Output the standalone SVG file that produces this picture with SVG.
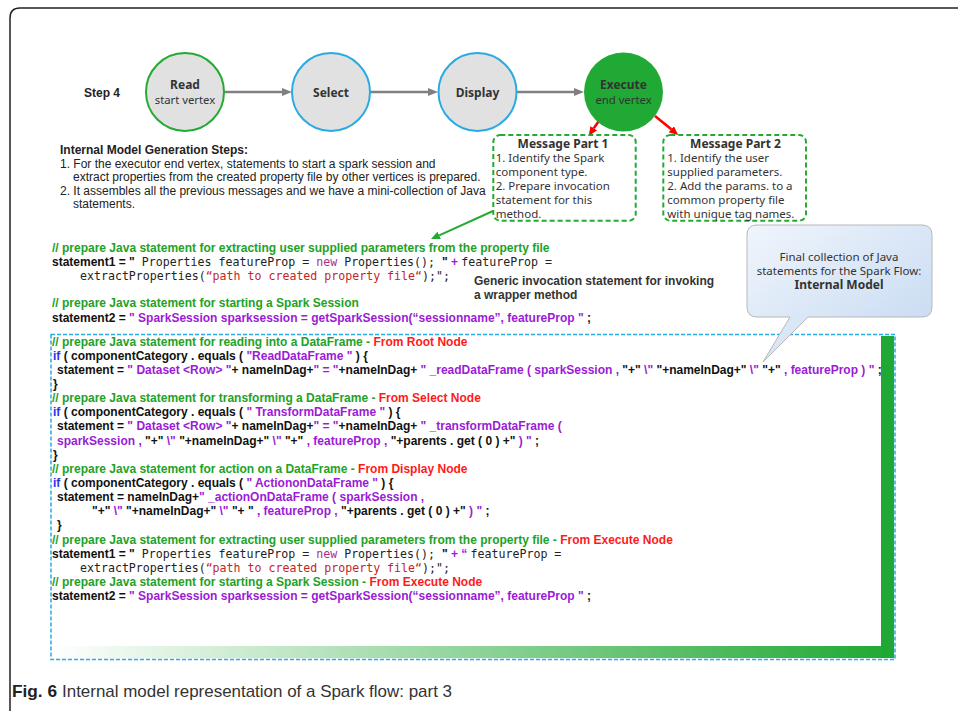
<svg xmlns="http://www.w3.org/2000/svg" width="958" height="711" viewBox="0 0 958 711">
<defs>
<style>
.code{font-family:"Liberation Sans",Arial,sans-serif;font-size:12px;font-weight:bold;fill:#111;white-space:pre}
.c{fill:#22a226}
.r{fill:#ff1a1a}
.p{fill:#9b1bd6}
.b{fill:#2a35e8}
.k{fill:#111}
.m{font-family:"DejaVu Sans Mono","Liberation Mono",monospace;font-weight:normal;font-size:11.6px;fill:#222}
.mn{font-family:"DejaVu Sans Mono","Liberation Mono",monospace;font-weight:normal;font-size:11.6px;fill:#a62f8e}
.ms{font-family:"DejaVu Sans Mono","Liberation Mono",monospace;font-weight:normal;font-size:11.6px;fill:#c4261d}
.t{font-family:"Noto Sans",sans-serif;fill:#333}
.tb{font-weight:bold}
.h{font-family:"Liberation Sans",Arial,sans-serif;fill:#222;font-size:12px}
.circ{fill:#e1e1e1;stroke-width:2}
.msg{fill:#fff;stroke:#22aa33;stroke-width:2;stroke-dasharray:5 3}
.ga{stroke:#808080;stroke-width:2.5;fill:none}
.ra{stroke:#ff0000;stroke-width:2.5;fill:none}
</style>
<marker id="mg" viewBox="0 0 10 8" markerWidth="10" markerHeight="8" refX="0" refY="4" orient="auto" markerUnits="userSpaceOnUse"><path d="M0,0 L10,4 L0,8 z" fill="#808080"/></marker>
<marker id="mr" viewBox="0 0 9 8" markerWidth="9" markerHeight="8" refX="0" refY="4" orient="auto" markerUnits="userSpaceOnUse"><path d="M0,0 L9,4 L0,8 z" fill="#ff0000"/></marker>
<marker id="mgr" viewBox="0 0 9 8" markerWidth="9" markerHeight="8" refX="0" refY="4" orient="auto" markerUnits="userSpaceOnUse"><path d="M0,0 L9,4 L0,8 z" fill="#22aa33"/></marker>
<linearGradient id="gbar" x1="0" y1="0" x2="1" y2="0"><stop offset="0" stop-color="#ffffff"/><stop offset="1" stop-color="#1fa833"/></linearGradient>
<linearGradient id="gcall" x1="0" y1="0" x2="1" y2="1"><stop offset="0" stop-color="#f0f5fc"/><stop offset="1" stop-color="#c3d8f1"/></linearGradient>
</defs>
<rect width="958" height="711" fill="#fff"/>
<path d="M10,711 V18 Q10,8 20,8 H958" fill="none" stroke="#222" stroke-width="1.5"/>

<g id="connectors">
<line class="ga" x1="224" y1="92" x2="282" y2="92" marker-end="url(#mg)"/>
<line class="ga" x1="370" y1="92" x2="428" y2="92" marker-end="url(#mg)"/>
<line class="ga" x1="516.5" y1="92" x2="574" y2="92" marker-end="url(#mg)"/>
<line class="ra" x1="598.3" y1="121.7" x2="593.8" y2="128.3" marker-end="url(#mr)"/>
<line class="ra" x1="655" y1="116" x2="671.3" y2="129.3" marker-end="url(#mr)"/>
<line stroke="#22aa33" stroke-width="2" x1="493" y1="211" x2="439.2" y2="235.3" marker-end="url(#mgr)"/>
</g>

<text class="h" x="84" y="97" style="font-weight:bold">Step 4</text>

<g id="read">
<circle class="circ" cx="185" cy="92" r="39" stroke="#22aa33"/>
<text class="t tb" x="185" y="89" text-anchor="middle" font-size="12">Read</text>
<text class="t" x="185" y="103.5" text-anchor="middle" font-size="11.3">start vertex</text>
</g>
<g id="select">
<circle class="circ" cx="331" cy="92" r="39" stroke="#29abe2"/>
<text class="t tb" x="331" y="96.5" text-anchor="middle" font-size="12">Select</text>
</g>
<g id="display">
<circle class="circ" cx="477.5" cy="92" r="39" stroke="#29abe2"/>
<text class="t tb" x="477.5" y="96.5" text-anchor="middle" font-size="12">Display</text>
</g>
<g id="execute">
<circle cx="623.5" cy="92" r="39.5" fill="#20a935"/>
<text class="t tb" x="623.5" y="89.3" text-anchor="middle" font-size="12">Execute</text>
<text class="t" x="623.5" y="104" text-anchor="middle" font-size="11.3">end vertex</text>
</g>

<g id="steps">
<text class="h" x="60" y="154" font-weight="bold">Internal Model Generation Steps:</text>
<text class="h" x="60" y="167.7">1. For the executor end vertex, statements to start a spark session and</text>
<text class="h" x="73" y="181">extract properties from the created property file by other vertices is prepared.</text>
<text class="h" x="60" y="194.5">2. It assembles all the previous messages and we have a mini-collection of Java</text>
<text class="h" x="73" y="208.3">statements.</text>
</g>

<g id="message1">
<rect class="msg" x="493.3" y="135" width="142.4" height="85.7" rx="7"/>
<text class="t tb" x="563" y="148.3" text-anchor="middle" font-size="12">Message Part 1</text>
<text class="t" x="495.7" y="162.3" font-size="11.5">1. Identify the Spark</text>
<text class="t" x="495.7" y="176" font-size="11.5">component type.</text>
<text class="t" x="495.7" y="190" font-size="11.5">2. Prepare invocation</text>
<text class="t" x="495.7" y="204" font-size="11.5">statement for this</text>
<text class="t" x="495.7" y="217.5" font-size="11.5">method.</text>
</g>
<g id="message2">
<rect class="msg" x="663.3" y="135" width="142.7" height="85.7" rx="7"/>
<text class="t tb" x="735.5" y="148.3" text-anchor="middle" font-size="12">Message Part 2</text>
<text class="t" x="667.3" y="162.3" font-size="11.5">1. Identify the user</text>
<text class="t" x="667.3" y="176" font-size="11.5">supplied parameters.</text>
<text class="t" x="667.3" y="190" font-size="11.5">2. Add the params. to a</text>
<text class="t" x="667.3" y="204" font-size="11.5">common property file</text>
<text class="t" x="667.3" y="217.5" font-size="11.5">with unique tag names.</text>
</g>

<g id="generic-note">
<text class="h" x="474" y="285" style="font-weight:bold;fill:#333">Generic invocation statement for invoking</text>
<text class="h" x="474" y="299" style="font-weight:bold;fill:#333">a wrapper method</text>
</g>

<g id="top-code">
<text class="code c" x="52" y="251.5">// prepare Java statement for extracting user supplied parameters from the property file</text>
<text class="code" x="52" y="265.7" xml:space="preserve"><tspan class="k">statement1 = "</tspan><tspan class="m"> Properties featureProp = </tspan><tspan class="mn">new</tspan><tspan class="m"> Properties(); </tspan><tspan class="k">"</tspan><tspan class="p"> + </tspan><tspan class="m">featureProp =</tspan></text>
<text class="code" x="80" y="280" xml:space="preserve"><tspan class="m">extractProperties(</tspan><tspan class="ms">“path to created property file“</tspan><tspan class="m">);";</tspan></text>
<text class="code c" x="52" y="307.3">// prepare Java statement for starting a Spark Session</text>
<text class="code" x="52" y="321.7" xml:space="preserve"><tspan class="k">statement2 = </tspan><tspan class="p">" SparkSession sparksession = getSparkSession(“sessionname”, featureProp "</tspan><tspan class="k"> ;</tspan></text>
</g>

<g id="model-box">
<rect x="51" y="334.5" width="844" height="325" fill="none" stroke="#29abe2" stroke-width="1.5" stroke-dasharray="4 2"/>
<rect x="52" y="646" width="842" height="12" fill="url(#gbar)"/>
<rect x="881" y="336" width="13" height="322" fill="#1fa833"/>
<text class="code" x="52" y="345.5" xml:space="preserve"><tspan class="c">// prepare Java statement for reading into a DataFrame - </tspan><tspan class="r">From Root Node</tspan></text>
<text class="code" x="53" y="359.6" xml:space="preserve"><tspan class="b">if</tspan><tspan class="k"> ( componentCategory . equals ( </tspan><tspan class="p">"ReadDataFrame "</tspan><tspan class="k"> ) {</tspan></text>
<text class="code" x="57" y="373.7" xml:space="preserve"><tspan class="k">statement = </tspan><tspan class="p">" Dataset &lt;Row&gt; "</tspan><tspan class="k">+ nameInDag+</tspan><tspan class="p">" = "</tspan><tspan class="k">+nameInDag+ </tspan><tspan class="p">" _readDataFrame ( sparkSession , </tspan><tspan class="k">"+"</tspan><tspan class="p"> \" </tspan><tspan class="k">"+nameInDag+"</tspan><tspan class="p"> \" </tspan><tspan class="k">"+"</tspan><tspan class="p"> , featureProp ) "</tspan><tspan class="k"> ;</tspan></text>
<text class="code" x="53" y="387.9">}</text>
<text class="code" x="52" y="402" xml:space="preserve"><tspan class="c">// prepare Java statement for transforming a DataFrame - </tspan><tspan class="r">From Select Node</tspan></text>
<text class="code" x="53" y="416.2" xml:space="preserve"><tspan class="b">if</tspan><tspan class="k"> ( componentCategory . equals ( </tspan><tspan class="p">" TransformDataFrame "</tspan><tspan class="k"> ) {</tspan></text>
<text class="code" x="57" y="430.3" xml:space="preserve"><tspan class="k">statement = </tspan><tspan class="p">" Dataset &lt;Row&gt; "</tspan><tspan class="k">+ nameInDag+</tspan><tspan class="p">" = "</tspan><tspan class="k">+nameInDag+ </tspan><tspan class="p">" _transformDataFrame (</tspan></text>
<text class="code" x="57" y="444.5" xml:space="preserve"><tspan class="p">sparkSession , </tspan><tspan class="k">"+"</tspan><tspan class="p"> \" </tspan><tspan class="k">"+nameInDag+"</tspan><tspan class="p"> \" </tspan><tspan class="k">"+"</tspan><tspan class="p"> , featureProp , </tspan><tspan class="k">"+parents . get ( 0 ) +"</tspan><tspan class="p"> ) "</tspan><tspan class="k"> ;</tspan></text>
<text class="code" x="53" y="458.6">}</text>
<text class="code" x="52" y="472.8" xml:space="preserve"><tspan class="c">// prepare Java statement for action on a DataFrame - </tspan><tspan class="r">From Display Node</tspan></text>
<text class="code" x="53" y="486.9" xml:space="preserve"><tspan class="b">if</tspan><tspan class="k"> ( componentCategory . equals ( </tspan><tspan class="p">" ActiononDataFrame "</tspan><tspan class="k"> ) {</tspan></text>
<text class="code" x="57" y="501.1" xml:space="preserve"><tspan class="k">statement = nameInDag+</tspan><tspan class="p">" _actionOnDataFrame ( sparkSession ,</tspan></text>
<text class="code" x="92" y="515.2" xml:space="preserve"><tspan class="k">"+"</tspan><tspan class="p"> \" </tspan><tspan class="k">"+nameInDag+"</tspan><tspan class="p"> \" </tspan><tspan class="k">"+ "</tspan><tspan class="p"> , featureProp , </tspan><tspan class="k">"+parents . get ( 0 ) +"</tspan><tspan class="p"> ) "</tspan><tspan class="k"> ;</tspan></text>
<text class="code" x="57" y="529.4">}</text>
<text class="code" x="52" y="543.5" xml:space="preserve"><tspan class="c">// prepare Java statement for extracting user supplied parameters from the property file - </tspan><tspan class="r">From Execute Node</tspan></text>
<text class="code" x="52" y="557.7" xml:space="preserve"><tspan class="k">statement1 = "</tspan><tspan class="m"> Properties featureProp = </tspan><tspan class="mn">new</tspan><tspan class="m"> Properties(); </tspan><tspan class="k">"</tspan><tspan class="p"> + “ </tspan><tspan class="m">featureProp =</tspan></text>
<text class="code" x="80" y="571.8" xml:space="preserve"><tspan class="m">extractProperties(</tspan><tspan class="ms">“path to created property file“</tspan><tspan class="m">);";</tspan></text>
<text class="code" x="52" y="586" xml:space="preserve"><tspan class="c">// prepare Java statement for starting a Spark Session - </tspan><tspan class="r">From Execute Node</tspan></text>
<text class="code" x="52" y="600.1" xml:space="preserve"><tspan class="k">statement2 = </tspan><tspan class="p">" SparkSession sparksession = getSparkSession(“sessionname”, featureProp "</tspan><tspan class="k"> ;</tspan></text>
</g>

<g id="callout">
<path d="M757,225 H922 Q932,225 932,235 V307 Q932,317 922,317 H808 L763,362 L790,317 H757 Q747,317 747,307 V235 Q747,225 757,225 Z" fill="url(#gcall)" stroke="#b8b8b8" stroke-width="1"/>
<text class="t" x="839" y="260.7" text-anchor="middle" font-size="11.5">Final collection of Java</text>
<text class="t" x="839" y="275" text-anchor="middle" font-size="11.5">statements for the Spark Flow:</text>
<text class="t tb" x="839" y="288.5" text-anchor="middle" font-size="12">Internal Model</text>
</g>

<g id="caption">
<text x="12" y="697" font-family="'Liberation Sans',Arial,sans-serif" font-weight="bold" font-size="17" fill="#222" textLength="45" lengthAdjust="spacingAndGlyphs">Fig. 6</text>
<text x="62" y="697" font-family="'Liberation Sans',Arial,sans-serif" font-size="17" fill="#333" textLength="390" lengthAdjust="spacingAndGlyphs">Internal model representation of a Spark flow: part 3</text>
</g>
</svg>
